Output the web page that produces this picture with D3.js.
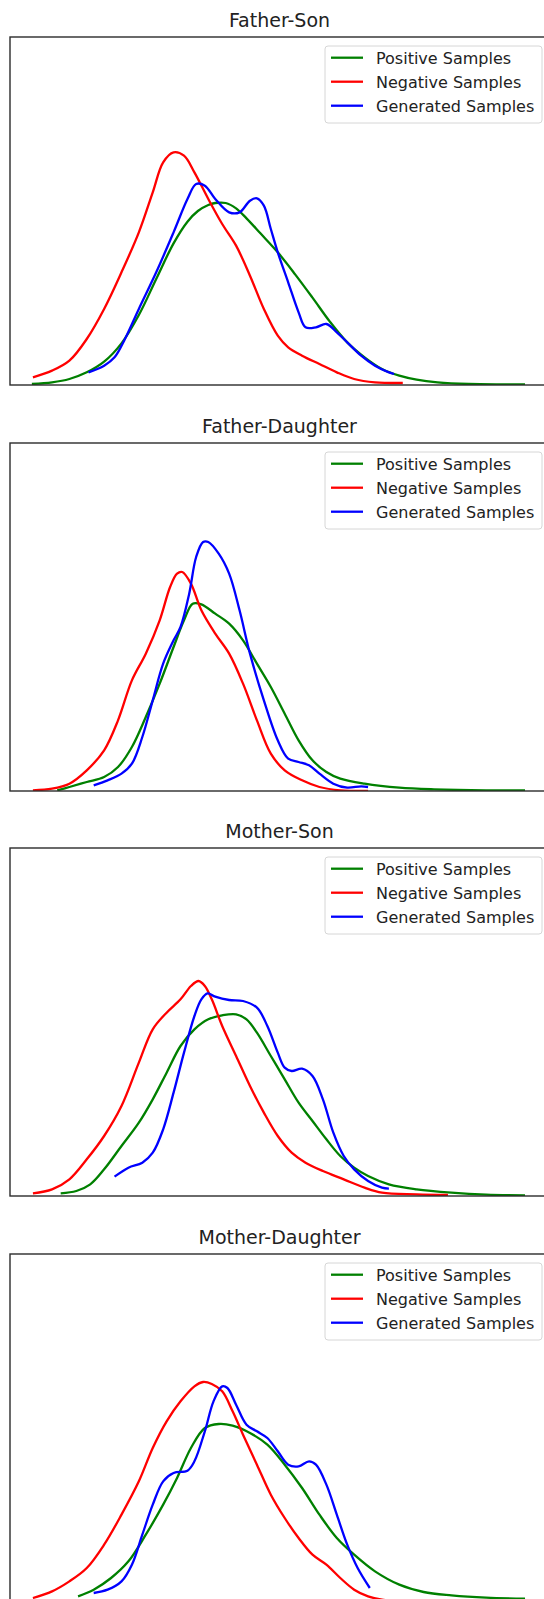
<!DOCTYPE html>
<html lang="en">
<head>
    <meta charset="UTF-8">
    <title>Kinship Sample Distributions</title>
    <script src="https://d3js.org/d3.v7.min.js"></script>
    <style>
        body { margin: 0; background: #fff; }
        svg { display: block; font-family: "DejaVu Sans", sans-serif; }
    </style>
</head>
<body>
    <div id="chart"></div>

    <script>
        // Panel titles and legend labels
        const titles = ["Father-Son", "Father-Daughter", "Mother-Son", "Mother-Daughter"];
        const seriesNames = ["Positive Samples", "Negative Samples", "Generated Samples"];
        const seriesColors = ["green", "red", "blue"];

        // Density curves, [x, density]
        const fsPositive = [[0.092,0.003],[0.150,0.008],[0.200,0.018],[0.250,0.038],[0.300,0.070],[0.350,0.125],[0.400,0.210],[0.450,0.318],[0.500,0.425],[0.540,0.490],[0.570,0.522],[0.600,0.540],[0.620,0.546],[0.650,0.546],[0.680,0.530],[0.710,0.500],[0.750,0.455],[0.800,0.398],[0.850,0.332],[0.900,0.262],[0.950,0.190],[1.000,0.128],[1.050,0.083],[1.100,0.048],[1.150,0.028],[1.200,0.016],[1.260,0.008],[1.350,0.003],[1.450,0.002],[1.512,0.002]];
        const fsNegative = [[0.095,0.023],[0.150,0.043],[0.200,0.073],[0.250,0.138],[0.300,0.228],[0.350,0.338],[0.400,0.458],[0.440,0.578],[0.470,0.668],[0.500,0.698],[0.530,0.688],[0.560,0.638],[0.600,0.558],[0.640,0.483],[0.680,0.418],[0.720,0.328],[0.760,0.228],[0.800,0.148],[0.830,0.113],[0.870,0.088],[0.920,0.063],[0.970,0.038],[1.020,0.018],[1.080,0.008],[1.160,0.006]];
        const fsGenerated = [[0.255,0.038],[0.300,0.058],[0.330,0.083],[0.360,0.138],[0.400,0.228],[0.450,0.338],[0.500,0.458],[0.540,0.558],[0.565,0.603],[0.590,0.598],[0.620,0.558],[0.660,0.518],[0.690,0.518],[0.720,0.553],[0.740,0.560],[0.760,0.538],[0.780,0.468],[0.800,0.398],[0.830,0.308],[0.860,0.218],[0.880,0.173],[0.910,0.173],[0.940,0.183],[0.970,0.158],[1.000,0.128],[1.040,0.088],[1.080,0.058],[1.120,0.038],[1.135,0.033]];

        const fdPositive = [[0.165,0.002],[0.200,0.012],[0.250,0.027],[0.300,0.042],[0.340,0.072],[0.380,0.132],[0.420,0.222],[0.460,0.322],[0.500,0.432],[0.530,0.512],[0.555,0.562],[0.580,0.560],[0.620,0.532],[0.660,0.502],[0.700,0.452],[0.740,0.382],[0.780,0.312],[0.820,0.232],[0.860,0.152],[0.900,0.092],[0.940,0.057],[0.980,0.037],[1.050,0.022],[1.150,0.010],[1.250,0.005],[1.400,0.002],[1.512,0.002]];
        const fdNegative = [[0.095,0.002],[0.150,0.007],[0.200,0.022],[0.250,0.062],[0.300,0.122],[0.340,0.212],[0.380,0.332],[0.420,0.412],[0.460,0.512],[0.490,0.612],[0.510,0.652],[0.525,0.657],[0.550,0.622],[0.580,0.542],[0.620,0.472],[0.660,0.412],[0.700,0.322],[0.740,0.212],[0.780,0.112],[0.820,0.062],[0.870,0.032],[0.920,0.012],[0.980,0.002],[1.060,0.000]];
        const fdGenerated = [[0.270,0.017],[0.310,0.032],[0.350,0.052],[0.380,0.082],[0.410,0.162],[0.440,0.272],[0.470,0.382],[0.500,0.452],[0.520,0.492],[0.545,0.592],[0.565,0.702],[0.585,0.747],[0.600,0.747],[0.630,0.712],[0.660,0.652],[0.690,0.542],[0.720,0.412],[0.760,0.272],[0.800,0.152],[0.830,0.097],[0.860,0.087],[0.890,0.077],[0.920,0.052],[0.960,0.022],[1.000,0.010],[1.040,0.014],[1.060,0.012]];

        const msPositive = [[0.175,0.008],[0.220,0.015],[0.260,0.035],[0.300,0.080],[0.350,0.150],[0.400,0.220],[0.440,0.290],[0.480,0.370],[0.520,0.450],[0.560,0.500],[0.600,0.530],[0.640,0.542],[0.680,0.545],[0.710,0.530],[0.740,0.490],[0.780,0.420],[0.820,0.350],[0.860,0.280],[0.900,0.225],[0.940,0.170],[0.980,0.120],[1.020,0.085],[1.060,0.060],[1.120,0.035],[1.200,0.020],[1.300,0.010],[1.400,0.004],[1.512,0.002]];
        const msNegative = [[0.095,0.008],[0.150,0.020],[0.200,0.050],[0.250,0.110],[0.300,0.180],[0.350,0.270],[0.400,0.400],[0.440,0.500],[0.480,0.550],[0.520,0.590],[0.550,0.630],[0.572,0.645],[0.590,0.630],[0.610,0.590],[0.640,0.510],[0.680,0.420],[0.720,0.330],[0.760,0.250],[0.800,0.180],[0.840,0.130],[0.880,0.100],[0.930,0.075],[0.990,0.050],[1.050,0.025],[1.100,0.010],[1.200,0.005],[1.290,0.003]];
        const msGenerated = [[0.330,0.058],[0.370,0.085],[0.410,0.100],[0.440,0.130],[0.470,0.200],[0.500,0.310],[0.530,0.430],[0.560,0.540],[0.580,0.590],[0.598,0.608],[0.620,0.598],[0.660,0.588],[0.700,0.585],[0.740,0.565],[0.770,0.510],[0.800,0.430],[0.820,0.385],[0.840,0.375],[0.870,0.382],[0.900,0.360],[0.930,0.290],[0.960,0.190],[0.990,0.120],[1.020,0.080],[1.060,0.045],[1.100,0.025],[1.120,0.022]];

        const mdPositive = [[0.225,0.017],[0.270,0.037],[0.320,0.072],[0.370,0.122],[0.420,0.202],[0.470,0.292],[0.510,0.372],[0.550,0.462],[0.590,0.522],[0.630,0.534],[0.670,0.529],[0.720,0.507],[0.770,0.472],[0.820,0.412],[0.870,0.342],[0.920,0.262],[0.970,0.192],[1.020,0.142],[1.080,0.092],[1.150,0.052],[1.220,0.030],[1.300,0.020],[1.400,0.013],[1.512,0.010]];
        const mdNegative = [[0.095,0.012],[0.150,0.032],[0.200,0.062],[0.250,0.102],[0.300,0.172],[0.350,0.262],[0.400,0.362],[0.440,0.462],[0.480,0.542],[0.520,0.602],[0.560,0.647],[0.585,0.660],[0.610,0.654],[0.640,0.632],[0.670,0.572],[0.700,0.502],[0.740,0.412],[0.780,0.322],[0.820,0.252],[0.860,0.192],[0.900,0.142],[0.940,0.112],[0.980,0.072],[1.020,0.037],[1.060,0.017],[1.100,0.007],[1.150,0.002]];
        const mdGenerated = [[0.270,0.027],[0.310,0.037],[0.350,0.062],[0.380,0.112],[0.410,0.202],[0.440,0.292],[0.470,0.362],[0.500,0.387],[0.540,0.394],[0.560,0.422],[0.590,0.512],[0.615,0.602],[0.640,0.647],[0.655,0.642],[0.680,0.592],[0.710,0.532],[0.740,0.512],[0.770,0.492],[0.800,0.452],[0.830,0.412],[0.860,0.407],[0.890,0.422],[0.910,0.412],[0.940,0.352],[0.970,0.262],[1.000,0.172],[1.030,0.102],[1.065,0.042]];

        const panels = [
            [fsPositive, fsNegative, fsGenerated],
            [fdPositive, fdNegative, fdGenerated],
            [msPositive, msNegative, msGenerated],
            [mdPositive, mdNegative, mdGenerated]
        ];

        // Layout
        const W = 544, H = 1599;
        const axLeft = 10, axRight = 549, axHeight = 348;
        const axTops = [37, 443, 848, 1254];

        const svg = d3.select("#chart")
            .append("svg")
            .attr("width", W)
            .attr("height", H);

        const x = d3.scaleLinear()
            .domain([0.029, 1.581])
            .range([axLeft, axRight]);

        panels.forEach((series, i) => {
            const top = axTops[i];
            const y = d3.scaleLinear()
                .domain([0, 1.044])
                .range([top + axHeight, top]);

            const g = svg.append("g");

            const clipId = "clip" + i;
            g.append("clipPath").attr("id", clipId)
                .append("rect")
                .attr("x", axLeft).attr("y", top)
                .attr("width", axRight - axLeft).attr("height", axHeight);

            const line = d3.line()
                .x(d => x(d[0]))
                .y(d => y(d[1]))
                .curve(d3.curveCatmullRom.alpha(0.5));

            series.forEach((data, j) => {
                g.append("path")
                    .datum(data)
                    .attr("clip-path", `url(#${clipId})`)
                    .attr("fill", "none")
                    .attr("stroke", seriesColors[j])
                    .attr("stroke-width", 2.3)
                    .attr("stroke-linejoin", "round")
                    .attr("d", line);
            });

            // frame
            g.append("rect")
                .attr("x", axLeft).attr("y", top)
                .attr("width", axRight - axLeft).attr("height", axHeight)
                .attr("fill", "none")
                .attr("stroke", "#2b2b2b")
                .attr("stroke-width", 1.4);

            // title
            g.append("text")
                .attr("x", (axLeft + axRight) / 2)
                .attr("y", top - 10)
                .attr("text-anchor", "middle")
                .attr("font-size", 19)
                .attr("fill", "#222")
                .text(titles[i]);

            // legend
            const lg = g.append("g").attr("transform", `translate(325,${top + 9})`);
            lg.append("rect")
                .attr("width", 217).attr("height", 77)
                .attr("rx", 3)
                .attr("fill", "#fff")
                .attr("stroke", "#d6d6d6")
                .attr("stroke-width", 1);

            seriesNames.forEach((name, j) => {
                const cy = 11.7 + j * 24;
                lg.append("line")
                    .attr("x1", 6).attr("x2", 38)
                    .attr("y1", cy).attr("y2", cy)
                    .attr("stroke", seriesColors[j])
                    .attr("stroke-width", 2.3);
                lg.append("text")
                    .attr("x", 51)
                    .attr("y", cy + 6)
                    .attr("font-size", 16)
                    .attr("fill", "#222")
                    .text(name);
            });
        });
    </script>
</body>
</html>
